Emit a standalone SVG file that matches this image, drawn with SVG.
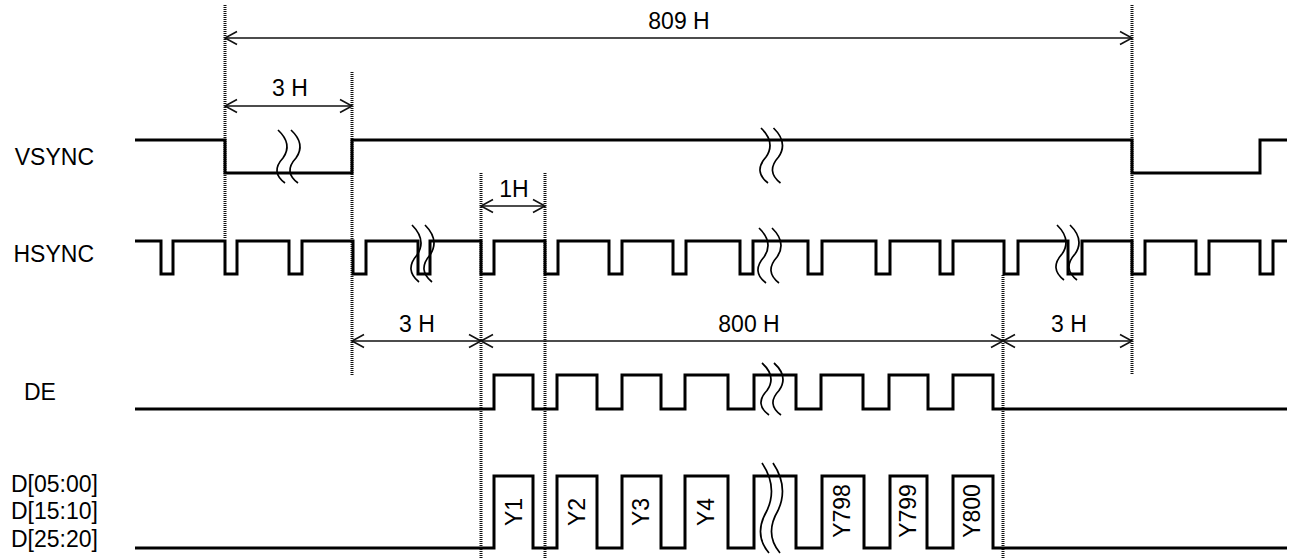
<svg xmlns="http://www.w3.org/2000/svg" width="1295" height="559" viewBox="0 0 1295 559">
<style>
.sig{fill:none;stroke:#000;stroke-width:3;stroke-linejoin:miter}
.guide{fill:none;stroke:#111;stroke-width:3;stroke-dasharray:1 1}
.dim{fill:none;stroke:#111;stroke-width:1.6;marker-start:url(#arr);marker-end:url(#arr)}
.brk{fill:none;stroke:#000;stroke-width:1.7}
text{font-family:"Liberation Sans",Arial,sans-serif;font-size:23px;fill:#000}
.c{text-anchor:middle}
.e{text-anchor:end}
</style>
<defs>
<marker id="arr" markerUnits="userSpaceOnUse" viewBox="-14 -8 16 16" markerWidth="16" markerHeight="16" refX="0" refY="0" orient="auto-start-reverse" overflow="visible">
<path d="M-12,-6.5 L0,0 L-12,6.5" fill="none" stroke="#111" stroke-width="1.6"/>
</marker>
</defs>
<rect width="1295" height="559" fill="#fff"/>

<g id="guides">
<line class="guide" x1="225" y1="5" x2="225" y2="239"/>
<line class="guide" x1="352" y1="72" x2="352" y2="375"/>
<line class="guide" x1="481" y1="173" x2="481" y2="559"/>
<line class="guide" x1="545" y1="173" x2="545" y2="559"/>
<line class="guide" x1="1003" y1="275" x2="1003" y2="559"/>
<line class="guide" x1="1132" y1="5" x2="1132" y2="375"/>
</g>

<g id="labels">
<text class="e" x="94" y="165">VSYNC</text>
<text class="e" x="94" y="262">HSYNC</text>
<text x="24" y="400">DE</text>
<text x="11" y="492">D[05:00]</text>
<text x="11" y="518.5">D[15:10]</text>
<text x="11" y="546.5">D[25:20]</text>
</g>

<g id="vsync">
<path class="sig" d="M135,140 H225 V173 H352 V140 H1132 V173 H1260 V140 H1287"/>
<path class="brk" d="M278,130 Q293,144 283,158 Q270,172 285,183 M291,130 Q306,144 296,158 Q283,172 298,183"/>
<path class="brk" d="M761,128 Q776,142.5 766,157 Q753,171.6 768,183 M773.5,128 Q788.5,142.5 778.5,157 Q765.5,171.6 780.5,183"/>
</g>

<g id="hsync">
<path class="sig" d="M135,241 H161 V274 H173 V241 H225 V274 H237 V241 H289 V274 H302 V241 H353 V274 H366 V241 H418 V274 H430 V241 H481 V274 H494 V241 H545 V274 H558 V241 H609 V274 H622 V241 H673 V274 H686 V241 H740 V274 H753 V241 H808 V274 H822 V241 H876 V274 H890 V241 H940 V274 H953 V241 H1004 V274 H1018 V241 H1068 V274 H1082 V241 H1132 V274 H1145 V241 H1196 V274 H1209 V241 H1260 V274 H1273 V241 H1287"/>
<path class="brk" d="M412,225 Q427,240 417,255 Q404,270 419,282 M425,225 Q440,240 430,255 Q417,270 432,282"/>
<path class="brk" d="M759,228 Q774,242.5 764,257 Q751,271.6 766,283 M772,228 Q787,242.5 777,257 Q764,271.6 779,283"/>
<path class="brk" d="M1057,225 Q1072,239.5 1062,254 Q1049,268.6 1064,280 M1070,225 Q1085,239.5 1075,254 Q1062,268.6 1077,280"/>
</g>

<g id="de">
<path class="sig" d="M135,409 H494 V375 H533 V409 H557 V375 H597 V409 H622 V375 H661 V409 H685 V375 H728 V409 H754 V375 H796 V409 H821 V375 H863 V409 H889 V375 H928 V409 H953 V375 H993 V409 H1287"/>
<path class="brk" d="M762,363 Q777,376.7 767,390.5 Q754,404.2 769,415 M774,363 Q789,376.7 779,390.5 Q766,404.2 781,415"/>
</g>

<g id="data">
<path class="sig" d="M135,548 H494 V476 H533 V548 H557 V476 H597 V548 H622 V476 H661 V548 H685 V476 H728 V548 H754 V476 H796 V548 H822 V476 H864 V548 H890 V476 H927 V548 H953 V476 H993 V548 H1287"/>
<path class="brk" d="M762,463 Q778,486.8 767,510.5 Q753,534.3 769,553 M773,463 Q789,486.8 778,510.5 Q764,534.3 780,553"/>
<text class="c" transform="translate(522,512) rotate(-90)">Y1</text>
<text class="c" transform="translate(585,512) rotate(-90)">Y2</text>
<text class="c" transform="translate(649,512) rotate(-90)">Y3</text>
<text class="c" transform="translate(714,512) rotate(-90)">Y4</text>
<text class="c" transform="translate(850,511) rotate(-90)">Y798</text>
<text class="c" transform="translate(916,511) rotate(-90)">Y799</text>
<text class="c" transform="translate(980,511) rotate(-90)">Y800</text>
</g>

<g id="connectors">
<line class="dim" x1="225" y1="38" x2="1132" y2="38"/>
<line class="dim" x1="225" y1="106" x2="352" y2="106"/>
<line class="dim" x1="481" y1="206" x2="545" y2="206"/>
<line class="dim" x1="352" y1="341" x2="481" y2="341"/>
<line class="dim" x1="481" y1="341" x2="1003" y2="341"/>
<line class="dim" x1="1003" y1="341" x2="1132" y2="341"/>
</g>

<g id="dim-labels">
<text class="c" x="679" y="29">809 H</text>
<text class="c" x="290" y="96">3 H</text>
<text class="c" x="514" y="197">1H</text>
<text class="c" x="417" y="332">3 H</text>
<text class="c" x="749" y="332">800 H</text>
<text class="c" x="1069" y="332">3 H</text>
</g>
</svg>
